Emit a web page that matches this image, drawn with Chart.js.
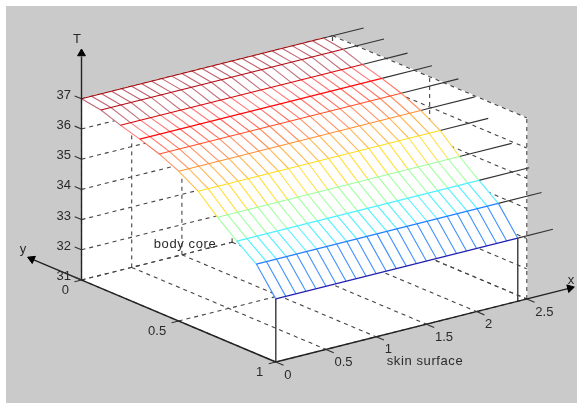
<!DOCTYPE html>
<html>
<head>
<meta charset="utf-8">
<title>T(x,y)</title>
<script src="https://cdn.jsdelivr.net/npm/chart.js@4"></script>
<style>
    html, body { margin: 0; padding: 0; background: #fff; overflow: hidden; }
    canvas { display: block; }
</style>
</head>
<body>
<canvas id="chart" width="577" height="404"></canvas>
<script>
let depths = [0, 0.1, 0.2, 0.3, 0.4, 0.5, 0.6, 0.7, 0.8, 0.9, 1];
let temps = [37, 36.9, 36.67, 36.48, 36.26, 35.96, 35.57, 34.98, 34.46, 33.97, 33.09];
let lengths = [0, 0.1, 0.2, 0.3, 0.4, 0.5, 0.6, 0.7, 0.8, 0.9, 1, 1.1, 1.2, 1.3, 1.4, 1.5,
    1.6, 1.7, 1.8, 1.9, 2, 2.1, 2.2, 2.3, 2.41];
// x where each row's black tail stops
let tails = [2.81, 2.82, 2.86, 2.91, 2.98, 2.95, 2.89, 2.93, 2.91, 2.84, 2.76];

let xTicks = [0, 0.5, 1, 1.5, 2, 2.5];
let yTicks = [0, 0.5, 1];
let tTicks = [31, 32, 33, 34, 35, 36, 37];
let xTickLabels = ["0", "0.5", "1", "1.5", "2", "2.5"];
let yTickLabels = ["0", "0.5", "1"];
let tTickLabels = ["31", "32", "33", "34", "35", "36", "37"];

let rowColors = ["#a80808", "#b00810", "#d80808", "#ff0808", "#ff5028", "#ff9030",
    "#ffdc20", "#9cff98", "#50f0ff", "#2080ff", "#2020b0"];
let colColors = ["#c06070", "#c07080", "#ff7878", "#ff7060", "#ff9060", "#ffb850",
    "#ffe040", "#a0ffa0", "#50f0ff", "#4090ff"];

// the fixed MATLAB-style view: data (x, y, T) -> position on the pixel scales
function project(x, y, t) {
    return {
        x: 81.5 + 100.4 * x + 194.3 * y,
        y: 280 - 25.2 * x + 82 * y - 30.2 * (t - 31)
    };
}

let datasets = [];

function addLine(points, color, opts) {
    datasets.push(Object.assign({
        data: points,
        showLine: true,
        borderColor: color,
        borderWidth: 1.1,
        pointRadius: 0,
        fill: false,
        tension: 0
    }, opts || {}));
}

function addDashed(a, b) {
    addLine([project(a[0], a[1], a[2]), project(b[0], b[1], b[2])], "#444", {borderDash: [4, 4]});
}

function addArrow(pos, rotation) {
    datasets.push({
        data: [pos],
        pointStyle: "triangle",
        pointRadius: 4.5,
        pointRotation: rotation,
        pointBackgroundColor: "#000",
        pointBorderColor: "#000",
        showLine: false
    });
}

// white box behind the grid
let xMax = xTicks[xTicks.length - 1];
addLine([project(0, 0, 31), project(0, 1, 31), project(xMax, 1, 31), project(xMax, 1, 37),
    project(xMax, 0, 37), project(0, 0, 37), project(0, 0, 31)], "#fff", {fill: "shape", backgroundColor: "#fff"});

// dashed grid: floor, y=0 wall, x=max wall
for (let x of xTicks) {
    addDashed([x, 0, 31], [x, 1, 31]);
    addDashed([x, 0, 31], [x, 0, 37]);
}
for (let y of yTicks) {
    addDashed([0, y, 31], [xMax, y, 31]);
    addDashed([xMax, y, 31], [xMax, y, 37]);
}
for (let t of tTicks) {
    addDashed([0, 0, t], [xMax, 0, t]);
    addDashed([xMax, 0, t], [xMax, 1, t]);
}

// the mesh hides what is behind it
let xEnd = lengths[lengths.length - 1];
let outline = [];
temps.forEach(function (t, i) { outline.push(project(0, depths[i], t)); });
temps.slice().reverse().forEach(function (t, i) { outline.push(project(xEnd, depths[depths.length - 1 - i], t)); });
outline.push(outline[0]);
addLine(outline, "rgba(255,255,255,0)", {fill: "shape", backgroundColor: "#fff"});

// skirt at the two near corners
addLine([project(0, 1, 31), project(0, 1, temps[10])], "#444", {borderWidth: 1.5});
addLine([project(xEnd, 1, 31), project(xEnd, 1, temps[10])], "#444", {borderWidth: 1.5});

// tails past the end of each row
temps.forEach(function (t, i) {
    addLine([project(xEnd, depths[i], t), project(tails[i], depths[i], t)], "#333");
});

// mesh columns then rows
for (let i = 0; i < depths.length - 1; i++) {
    for (let x of lengths) {
        addLine([project(x, depths[i], temps[i]), project(x, depths[i + 1], temps[i + 1])], colColors[i]);
    }
}
temps.forEach(function (t, i) {
    addLine([project(0, depths[i], t), project(xEnd, depths[i], t)], rowColors[i]);
});

// axes and ticks
addLine([project(0, 0, 31), project(0, 0, 38.4)], "#222", {borderWidth: 1.4});
addLine([project(0, 1, 31), project(0, -0.27, 31)], "#222", {borderWidth: 1.4});
addLine([project(0, 1, 31), project(2.93, 1, 31)], "#222", {borderWidth: 1.4});
addArrow(project(0, 0, 38.5), 0);
addArrow(project(0, -0.256, 31), -66);
addArrow(project(2.93, 1, 31), 76);
for (let t of tTicks) addLine([project(0, 0, t), project(0, -0.035, t)], "#333");
for (let x of xTicks) addLine([project(x, 1, 31), project(x, 1.04, 31)], "#333");
for (let y of yTicks) addLine([project(0, y, 31), project(-0.07, y, 31)], "#333");

// later entries paint on top
datasets.forEach(function (d, i) { d.order = datasets.length - i; });

let labelFont = "13px 'Liberation Sans', Arial, sans-serif";

function drawLabel(chart, text, x, y, align) {
    let ctx = chart.ctx;
    ctx.textAlign = align || "center";
    ctx.fillText(text, chart.scales.x.getPixelForValue(x), chart.scales.y.getPixelForValue(y));
}

let pagePlugin = {
    id: "page",
    beforeDraw: function (chart) {
        chart.ctx.fillStyle = "#cacaca";
        chart.ctx.fillRect(6, 6, 571, 397);
    },
    afterDraw: function (chart) {
        let ctx = chart.ctx;
        ctx.save();
        ctx.font = labelFont;
        ctx.fillStyle = "#2a2a2a";
        ctx.textBaseline = "middle";
        tTicks.forEach(function (t, i) {
            let p = project(0, 0, t);
            drawLabel(chart, tTickLabels[i], p.x - 10.5, p.y - 3.5, "right");
        });
        xTicks.forEach(function (x, i) {
            let p = project(x, 1, 31);
            drawLabel(chart, xTickLabels[i], p.x + 8.5, p.y + 13, "left");
        });
        yTicks.forEach(function (y, i) {
            let p = project(0, y, 31);
            drawLabel(chart, yTickLabels[i], p.x - 12.5, p.y + 10.5, "right");
        });
        drawLabel(chart, "T", 77, 39);
        drawLabel(chart, "y", 23, 249);
        drawLabel(chart, "x", 571, 280);
        ctx.letterSpacing = "0.6px";
        drawLabel(chart, "body core", 185, 244);
        drawLabel(chart, "skin surface", 425, 361);
        ctx.restore();
    }
};

new Chart(document.getElementById("chart"), {
    type: "scatter",
    data: {datasets: datasets},
    plugins: [pagePlugin],
    options: {
        responsive: false,
        animation: false,
        layout: {padding: 0, autoPadding: false},
        scales: {
            x: {type: "linear", min: 0, max: 577, display: false},
            y: {type: "linear", min: 0, max: 404, reverse: true, display: false}
        },
        plugins: {
            legend: {display: false},
            title: {display: false},
            tooltip: {enabled: false},
            filler: {drawTime: "beforeDatasetDraw"}
        }
    }
});
</script>
</body>
</html>
